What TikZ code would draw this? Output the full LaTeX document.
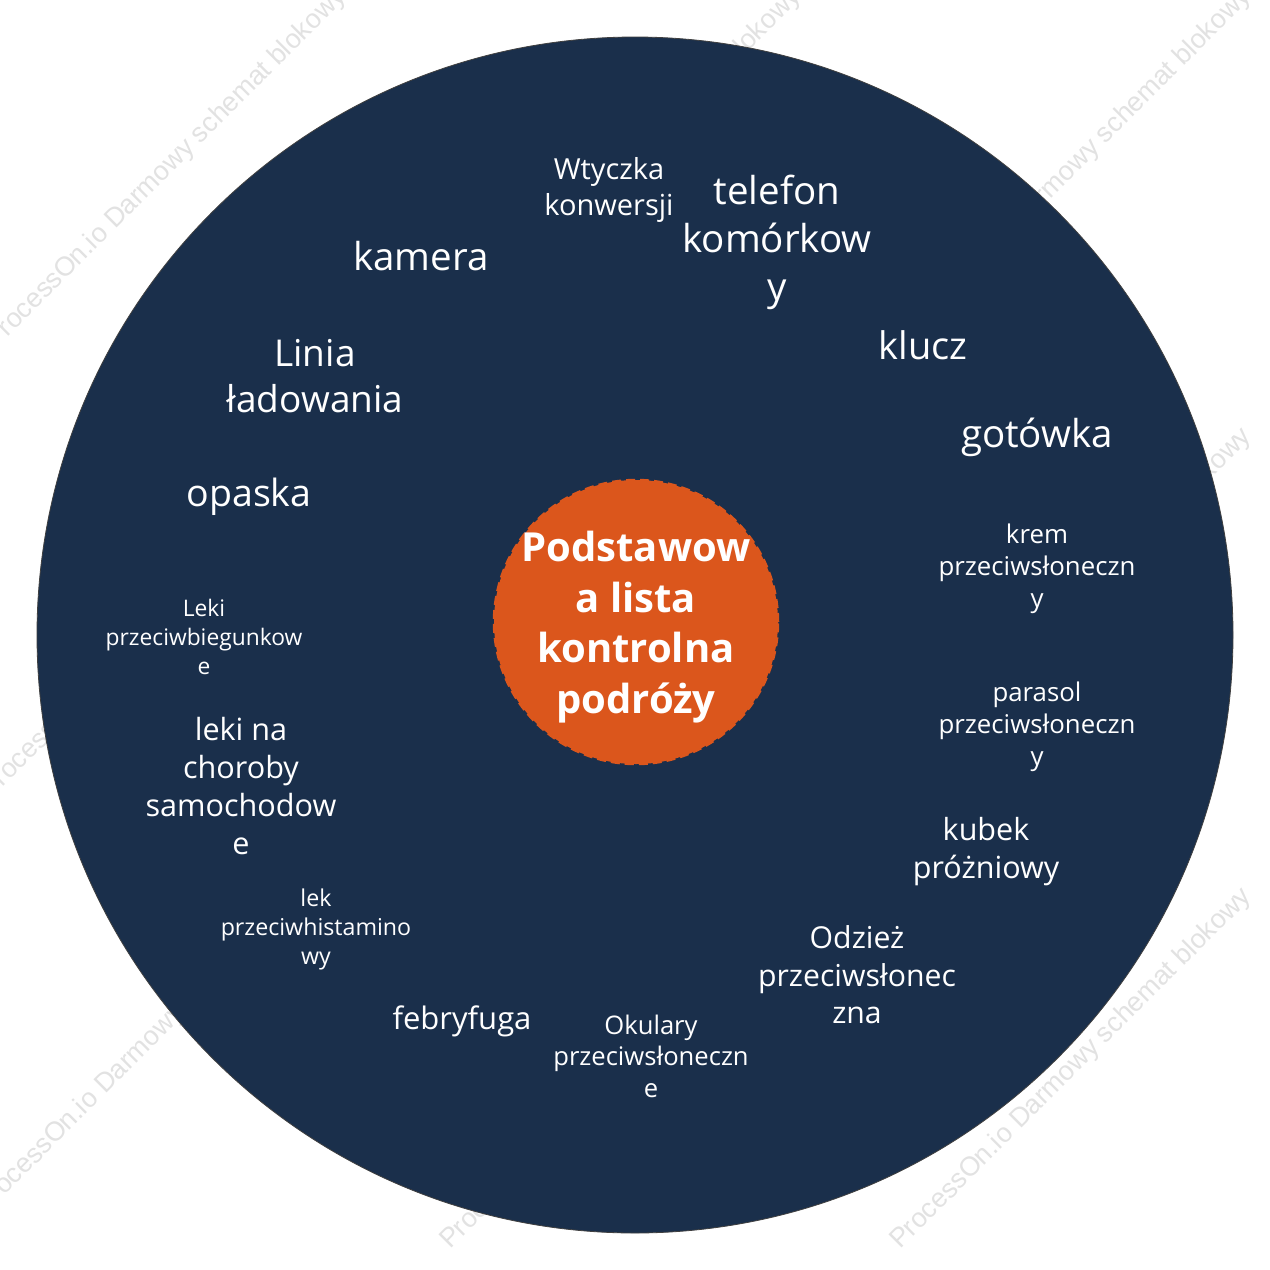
\documentclass[tikz,border=0pt]{standalone}
\usepackage{fontspec}
\setmainfont{Open Sans}
\newfontfamily\wmfont{Liberation Sans}
\definecolor{navy}{HTML}{1A2F4B}
\definecolor{orng}{HTML}{DB561C}
\definecolor{wmgray}{HTML}{E2E2E2}
\newcommand{\fs}[2]{\fontsize{#1}{#2}\selectfont}
\tikzset{
  item/.style={text=white, align=center, inner sep=0pt},
  wm/.style={text=wmgray, rotate=45, anchor=base west, inner sep=0pt, font=\wmfont\fs{27}{30}},
}
\begin{document}
\begin{tikzpicture}[x=1pt,y=-1pt]
\useasboundingbox (0,0) rectangle (1270,1270);
\fill[white] (0,0) rectangle (1270,1270);
% watermarks
\foreach \px/\py [count=\i] in {-5/350,450/350,900/350,-10/800,900/790,-15/1215,450/1250,900/1250}{
  \node[wm] (wm\i) at (\px,\py) {ProcessOn.io Darmowy schemat blokowy};
}
% big circle
\node[circle, fill=navy, draw=black!75, line width=0.8pt, minimum size=1196pt, inner sep=0pt] (outer) at (635,635) {};
% centre
\node[circle, fill=orng, draw=orng, line width=2.5pt, dash pattern=on 9pt off 5pt, minimum size=284pt, inner sep=0pt] (hub) at (636,622) {};
\node[item, font=\bfseries\fs{40}{50.5}] (title) at (636,627) {Podstawow\\a lista\\kontrolna\\podróży};
% items
\node[item, font=\fs{29}{36}] (wtyczka) at (609,190) {Wtyczka\\konwersji};
\node[item, font=\fs{38.5}{48}] (telefon) at (777,242) {telefon\\komórkow\\y};
\node[item, font=\fs{38.5}{48}] (kamera) at (421,256) {kamera};
\node[item, font=\fs{37}{46}] (linia) at (315,376) {Linia\\ładowania};
\node[item, font=\fs{38}{46}] (klucz) at (923,345) {klucz};
\node[item, font=\fs{38.5}{46}] (gotowka) at (1037,437) {gotówka};
\node[item, font=\fs{37.5}{46}] (opaska) at (249,497) {opaska};
\node[item, font=\fs{22.8}{29}] (biegunk) at (204,637) {Leki\\przeciwbiegunkow\\e};
\node[item, font=\fs{30.6}{38}] (choroby) at (241,786) {leki na\\choroby\\samochodow\\e};
\node[item, font=\fs{23.2}{29}] (histam) at (316,929) {lek\\przeciwhistamino\\wy};
\node[item, font=\fs{31}{38}] (febry) at (462,1021) {febryfuga};
\node[item, font=\fs{25.6}{31.5}] (okulary) at (651,1056) {Okulary\\przeciwsłoneczn\\e};
\node[item, font=\fs{30.2}{37.5}] (odziez) at (857,975) {Odzież\\przeciwsłonec\\zna};
\node[item, font=\fs{30.5}{38}] (kubek) at (986,852) {kubek\\próżniowy};
\node[item, font=\fs{25.8}{32}] (parasol) at (1037,727) {parasol\\przeciwsłoneczn\\y};
\node[item, font=\fs{25.8}{32}] (krem) at (1037,569) {krem\\przeciwsłoneczn\\y};
\end{tikzpicture}
\end{document}
